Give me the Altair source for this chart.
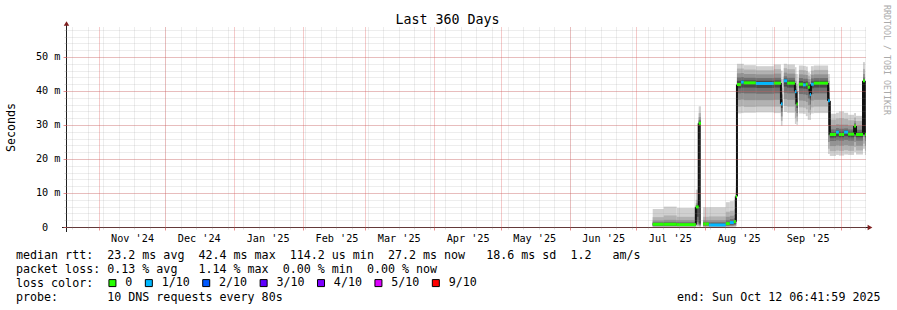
import altair as alt
import pandas as pd
from datetime import date, timedelta

FONT = "DejaVu Sans Mono"

# ---------------- time window (last 360 days, UTC) ----------------
win_start = (2024, 10, 17, 6, 42)
win_end = (2025, 10, 12, 6, 42)

# ---------------- smoke segments (all in 2025, "MM-DDTHH") ----------------
seg_start = ["07-08T07", "07-13T07", "07-19T02", "07-27T17", "07-29T00",
             "07-31T00", "08-02T14", "08-10T05", "08-12T00", "08-13T19", "08-14T17",
             "08-15T05", "08-17T00", "08-18T07", "08-23T17", "08-31T19", "09-04T00",
             "09-05T07", "09-06T19", "09-10T07", "09-11T00",
             "09-12T02", "09-13T22", "09-15T05", "09-16T02", "09-17T00", "09-17T12", "09-18T19", "09-25T05",
             "09-26T00", "09-28T19", "09-30T02", "10-02T10", "10-04T05", "10-06T22", "10-07T19", "10-10T22", "10-11T19"]
seg_end = ["07-13T07", "07-19T02", "07-27T17", "07-29T00", "07-30T00",
           "08-02T14", "08-10T05", "08-12T00", "08-13T19", "08-14T17", "08-15T05",
           "08-17T00", "08-18T07", "08-23T17", "08-31T19", "09-04T00", "09-04T17",
           "09-06T19", "09-10T07", "09-11T00", "09-11T14",
           "09-13T22", "09-15T05", "09-16T02", "09-17T00", "09-17T12", "09-18T19", "09-25T05", "09-26T00",
           "09-28T19", "09-30T02", "10-02T10", "10-04T05", "10-06T22", "10-07T19", "10-10T22", "10-11T19", "10-12T06"]
median_ms = [0.8, 0.8, 0.7, 5.9, 30.5,
             0.9, 0.6, 1.0, 1.3, 1.6, 9.0,
             41.9, 42.6, 42.4, 42.2, 42.3, 36.2,
             43.0, 42.3, 39.8, 36.2,
             42.0, 41.8, 42.0, 41.1, 39.0, 42.0, 42.3, 37.1,
             27.2, 27.9, 27.2, 27.9, 27.3, 29.7, 27.2, 43.0, 27.2]
loss = ["0", "0", "0", "0", "0",
        "0", "1/10", "0", "1/10", "0", "0",
        "0", "1/10", "0", "1/10", "0", "1/10",
        "1/10", "0", "1/10", "0",
        "0", "1/10", "0", "0", "1/10", "1/10", "0", "1/10",
        "0", "1/10", "0", "1/10", "0", "0", "0", "0", "0"]
# sorted-ping envelopes: 1 = outermost pair ... 5 = innermost pair
smoke_hi1 = [5.3, 6.0, 5.6, 11.0, 35.5, 5.8, 5.8, 7.3, 7.6, 8.0, 13.0,
             48.0, 48.0, 47.6, 47.3, 47.8, 46.0, 48.0, 47.8, 47.0, 45.0,
             47.5, 47.4, 47.2, 45.5, 45.0, 47.3, 47.5, 45.0,
             33.3, 33.6, 34.0, 33.6, 33.0, 33.5, 32.7, 48.5, 33.0]
smoke_hi2 = [2.9, 3.4, 3.0, 8.0, 33.5, 3.0, 3.1, 4.5, 4.8, 5.2, 11.5,
             46.6, 46.6, 46.3, 46.1, 46.4, 43.5, 46.7, 46.4, 45.0, 42.0,
             46.2, 46.1, 45.9, 44.5, 43.5, 46.0, 46.2, 43.0,
             31.6, 31.9, 32.0, 31.8, 31.4, 32.2, 31.2, 46.5, 31.4]
smoke_hi3 = [1.9, 2.1, 2.0, 7.0, 32.3, 2.0, 2.0, 3.0, 3.3, 3.6, 10.5,
             45.2, 45.3, 45.0, 44.9, 45.1, 41.0, 45.4, 45.1, 43.0, 40.0,
             44.9, 44.8, 44.7, 43.5, 42.0, 44.8, 44.9, 41.0,
             29.9, 30.2, 30.1, 30.1, 29.8, 31.2, 29.7, 45.0, 29.8]
smoke_hi4 = [1.4, 1.5, 1.4, 6.5, 31.5, 1.5, 1.4, 2.0, 2.3, 2.6, 9.8,
             44.0, 44.1, 43.9, 43.8, 43.9, 39.0, 44.3, 43.9, 41.5, 38.0,
             43.8, 43.6, 43.6, 42.6, 40.5, 43.7, 43.8, 39.5,
             28.7, 29.1, 28.9, 29.0, 28.7, 30.5, 28.6, 44.0, 28.7]
smoke_hi5 = [1.1, 1.1, 1.0, 6.2, 31.0, 1.2, 1.0, 1.4, 1.7, 2.0, 9.3,
             43.0, 43.2, 43.1, 43.0, 43.1, 37.5, 43.6, 43.1, 40.5, 37.0,
             42.9, 42.7, 42.8, 41.9, 39.7, 42.8, 43.0, 38.0,
             27.9, 28.4, 28.0, 28.4, 28.0, 30.0, 27.9, 43.5, 28.0]
smoke_lo5 = [0.5, 0.5, 0.5, 3.0, 1.0, 0.6, 0.4, 0.6, 0.8, 1.0, 4.0,
             40.8, 41.0, 41.0, 40.9, 41.0, 35.0, 41.3, 41.0, 38.0, 35.0,
             40.8, 40.7, 40.6, 39.8, 37.5, 40.8, 41.0, 30.0,
             26.3, 26.6, 26.4, 26.7, 26.4, 28.0, 26.4, 30.0, 26.4]
smoke_lo4 = [0.35, 0.35, 0.35, 1.5, 0.6, 0.4, 0.3, 0.4, 0.5, 0.6, 2.5,
             39.3, 39.4, 39.3, 39.2, 39.3, 33.8, 39.5, 39.3, 36.0, 33.5,
             39.1, 39.0, 38.8, 37.8, 36.0, 39.1, 39.3, 27.0,
             25.3, 25.5, 25.4, 25.6, 25.4, 26.5, 25.4, 28.0, 25.4]
smoke_lo3 = [0.2, 0.2, 0.2, 0.8, 0.4, 0.25, 0.2, 0.25, 0.3, 0.4, 1.5,
             37.4, 37.5, 37.3, 37.3, 37.4, 32.5, 37.6, 37.4, 34.0, 32.5,
             37.2, 37.1, 36.8, 35.8, 34.5, 37.2, 37.4, 25.0,
             23.8, 24.0, 23.9, 24.1, 23.9, 25.0, 23.9, 26.5, 23.9]
smoke_lo2 = [0.1, 0.1, 0.1, 0.4, 0.2, 0.1, 0.1, 0.1, 0.15, 0.2, 0.8,
             35.4, 35.5, 35.3, 35.4, 35.4, 31.2, 35.6, 35.4, 32.0, 31.0,
             35.2, 35.1, 34.6, 33.6, 33.0, 35.2, 35.4, 23.0,
             22.3, 22.5, 22.4, 22.6, 22.4, 23.5, 22.5, 24.5, 22.4]
smoke_lo1 = [0.0, 0.0, 0.0, 0.1, 0.0, 0.0, 0.0, 0.0, 0.0, 0.0, 0.2,
             33.4, 33.5, 33.6, 33.7, 33.5, 29.8, 33.8, 33.6, 30.3, 30.0,
             33.4, 33.3, 32.6, 31.5, 31.5, 33.4, 33.5, 21.5,
             20.9, 21.2, 21.0, 21.3, 21.2, 22.0, 21.3, 23.0, 21.2]

loss_labels = ["0", "1/10", "2/10", "3/10", "4/10", "5/10", "9/10"]
loss_colors = ["#26ff00", "#00b8ff", "#0059ff", "#5e00ff", "#7e00ff", "#dd00ff", "#ff0000"]
smoke_grays = ["#d0d0d0", "#b2b2b2", "#939393", "#707070", "#484848"]

# ---------------- axis values ----------------
month_starts = ["2024-11-01", "2024-12-01", "2025-01-01", "2025-02-01", "2025-03-01", "2025-04-01",
                "2025-05-01", "2025-06-01", "2025-07-01", "2025-08-01", "2025-09-01", "2025-10-01"]
month_labels_at = ["2024-11-16", "2024-12-16", "2025-01-16", "2025-02-16", "2025-03-16", "2025-04-16",
                   "2025-05-16", "2025-06-16", "2025-07-16", "2025-08-16", "2025-09-16"]
first_sunday = "2024-10-20"
last_sunday = "2025-10-12"
y_minor = list(range(0, 59, 2))
y_major = [0, 10, 20, 30, 40, 50]

# ---------------- legend texts ----------------
line_rtt = "median rtt:  23.2 ms avg  42.4 ms max  114.2 us min  27.2 ms now   18.6 ms sd  1.2   am/s"
line_loss = "packet loss: 0.13 % avg   1.14 % max  0.00 % min  0.00 % now"
line_color = "loss color:"
line_probe = "probe:       10 DNS requests every 80s"
line_end = "end: Sun Oct 12 06:41:59 2025"
title_text = "Last 360 Days"
credit = "RRDTOOL / TOBI OETIKER"

MEDIAN_HALF_MS = 0.44  # half thickness of the median line (about 1.5 px)


def dtu(y, m, d, h=0, mi=0):
    return alt.DateTime(year=y, month=m, date=d, hours=h, minutes=mi, utc=True)


def dstr(s):
    d = date.fromisoformat(s)
    return dtu(d.year, d.month, d.day)


def iso(s):
    return f"2025-{s}:00:00Z"


n = len(seg_start)
his = [smoke_hi1, smoke_hi2, smoke_hi3, smoke_hi4, smoke_hi5]
los = [smoke_lo1, smoke_lo2, smoke_lo3, smoke_lo4, smoke_lo5]
smoke_rows = []
for lvl in range(5):
    for i in range(n):
        smoke_rows.append({"start": iso(seg_start[i]), "end": iso(seg_end[i]),
                           "lo": los[lvl][i], "hi": his[lvl][i], "level": lvl + 1})
smoke_df = pd.DataFrame(smoke_rows)

med_df = pd.DataFrame({"start": [iso(s) for s in seg_start], "end": [iso(s) for s in seg_end],
                       "med": median_ms, "loss": loss})

conn_rows = []
for i in range(n - 1):
    if seg_end[i] == seg_start[i + 1] and abs(median_ms[i] - median_ms[i + 1]) > 1.5:
        conn_rows.append({"t": iso(seg_end[i]), "a": median_ms[i], "b": median_ms[i + 1]})
conn_df = pd.DataFrame(conn_rows)

weeks = []
d = date.fromisoformat(first_sunday)
while d <= date.fromisoformat(last_sunday):
    weeks.append(dtu(d.year, d.month, d.day))
    d += timedelta(days=7)

x_scale = alt.Scale(type="utc", domain=[dtu(*win_start), dtu(*win_end)])
y_scale = alt.Scale(domain=[0, 58.82], nice=False)

MINOR = "#8f8f8f"
MAJOR = "#de4f4f"


def grid_axis(orient, values, color, opacity, tick):
    return alt.Axis(orient=orient, values=values, grid=True, gridColor=color, gridOpacity=opacity,
                    gridDash=[1, 1], gridWidth=1, labels=False, ticks=True, tickSize=tick,
                    tickColor=color, tickOpacity=opacity, domain=False, title=None,
                    minExtent=0, maxExtent=0, zindex=1)


x_minor_axis = grid_axis("bottom", weeks, MINOR, 0.32, 2)
y_minor_axis = grid_axis("left", y_minor, MINOR, 0.32, 2)
x_major_axis = grid_axis("bottom", [dstr(s) for s in month_starts], MAJOR, 0.6, 3)
y_major_axis = grid_axis("left", y_major, MAJOR, 0.6, 3)

x_label_axis = alt.Axis(orient="bottom", values=[dstr(s) for s in month_labels_at],
                        labelExpr="utcFormat(datum.value, \"%b '%y\")",
                        labelFont=FONT, labelFontSize=10.2, labelColor="black",
                        labelPadding=6, labelFlush=False, labelOverlap=False, ticks=False, tickSize=0,
                        domain=False, grid=False, title=None, zindex=0)
y_label_axis = alt.Axis(orient="left", values=y_major,
                        labelExpr="datum.value == 0 ? '0' : datum.value + ' m'",
                        labelPadding={"condition": {"test": "datum.value == 0", "value": 18.3}, "value": 6},
                        labelFont=FONT, labelFontSize=10.2, labelColor="black",
                        labelFlush=False, labelOverlap=False, ticks=False, tickSize=0, domain=False,
                        grid=False, title="Seconds", titleFont=FONT, titleFontSize=11.66,
                        titleFontWeight="normal", titleColor="black", titleX=-55, titleY=100,
                        titleAngle=270, titleAlign="center", titleBaseline="middle", zindex=0)

smoke = alt.Chart(smoke_df).mark_rect().encode(
    x=alt.X("start:T", scale=x_scale, axis=x_minor_axis),
    x2="end:T",
    y=alt.Y("lo:Q", scale=y_scale, axis=y_minor_axis),
    y2="hi:Q",
    fill=alt.Fill("level:O", scale=alt.Scale(domain=[1, 2, 3, 4, 5], range=smoke_grays), legend=None),
)

connectors = alt.Chart(conn_df).mark_rule(color="#111111", strokeWidth=2).encode(
    x=alt.X("t:T", scale=x_scale, axis=x_label_axis),
    y=alt.Y("a:Q", scale=y_scale, axis=y_label_axis),
    y2="b:Q",
)

loss_scale = alt.Scale(domain=loss_labels, range=loss_colors)
median = alt.Chart(med_df).transform_calculate(
    med_lo=f"datum.med - {MEDIAN_HALF_MS}", med_hi=f"datum.med + {MEDIAN_HALF_MS}"
).mark_rect().encode(
    x=alt.X("start:T", scale=x_scale, axis=x_major_axis),
    x2="end:T",
    y=alt.Y("med_lo:Q", scale=y_scale, axis=y_major_axis),
    y2="med_hi:Q",
    color=alt.Color("loss:N", scale=loss_scale,
                    legend=alt.Legend(title=None, orient="none", legendX=40.6, legendY=250,
                                      direction="horizontal", columns=7, gridAlign="each",
                                      symbolType="square",
                                      symbolSize=49, symbolStrokeColor="black", symbolStrokeWidth=1,
                                      symbolOpacity=1, labelFont=FONT, labelFontSize=11.66,
                                      labelColor="black", labelOffset=7, columnPadding=10.4,
                                      labelLimit=200, padding=0)),
)

one = pd.DataFrame({"k": [0]})


def txt(s, x, y, size=11.66, align="left", angle=0, color="black", baseline="alphabetic"):
    # non-breaking spaces keep the fixed-width column layout of the text
    return alt.Chart(one).mark_text(text=s.replace(" ", "\u00a0"), align=align, baseline=baseline,
                                    font=FONT, fontSize=size, angle=angle, color=color).encode(
        x=alt.value(x), y=alt.value(y))


AXIS_COL = "#1f1f1f"
ARROW_COL = "#801f1f"
x_line = alt.Chart(one).mark_rule(color=AXIS_COL, strokeWidth=1).encode(
    x=alt.value(-4), x2=alt.value(804), y=alt.value(200.5))
y_line = alt.Chart(one).mark_rule(color=AXIS_COL, strokeWidth=1).encode(
    x=alt.value(0.5), y=alt.value(-4), y2=alt.value(205))
up_arrow = alt.Chart(one).mark_point(shape="triangle-up", filled=True, size=30, opacity=1,
                                     color=ARROW_COL).encode(x=alt.value(0.5), y=alt.value(-3.5))
right_arrow = alt.Chart(one).mark_point(shape="triangle-right", filled=True, size=30, opacity=1,
                                        color=ARROW_COL).encode(x=alt.value(804), y=alt.value(200.5))

texts = [
    txt(title_text, 381.5, -3, size=13.3, align="center"),
    txt(credit, 820, -22, size=8.3, angle=90, color="#aaaaaa", baseline="middle"),
    txt(line_rtt, -50, 231.5),
    txt(line_loss, -50, 245.5),
    txt(line_color, -50, 259.5),
    txt(line_probe, -50, 273.5),
    txt(line_end, 814.5, 273.5, align="right"),
]

chart = alt.layer(
    smoke, connectors, median, x_line, y_line, up_arrow, right_arrow, *texts
).resolve_axis(
    x="independent", y="independent"
).properties(
    width=800, height=200,
    autosize=alt.AutoSizeParams(type="none"),
    padding={"left": 66, "top": 27, "right": 31, "bottom": 83},
    background="white",
).configure_view(stroke=None)

chart.save("out.html", embed_options={"renderer": "svg", "actions": False})
